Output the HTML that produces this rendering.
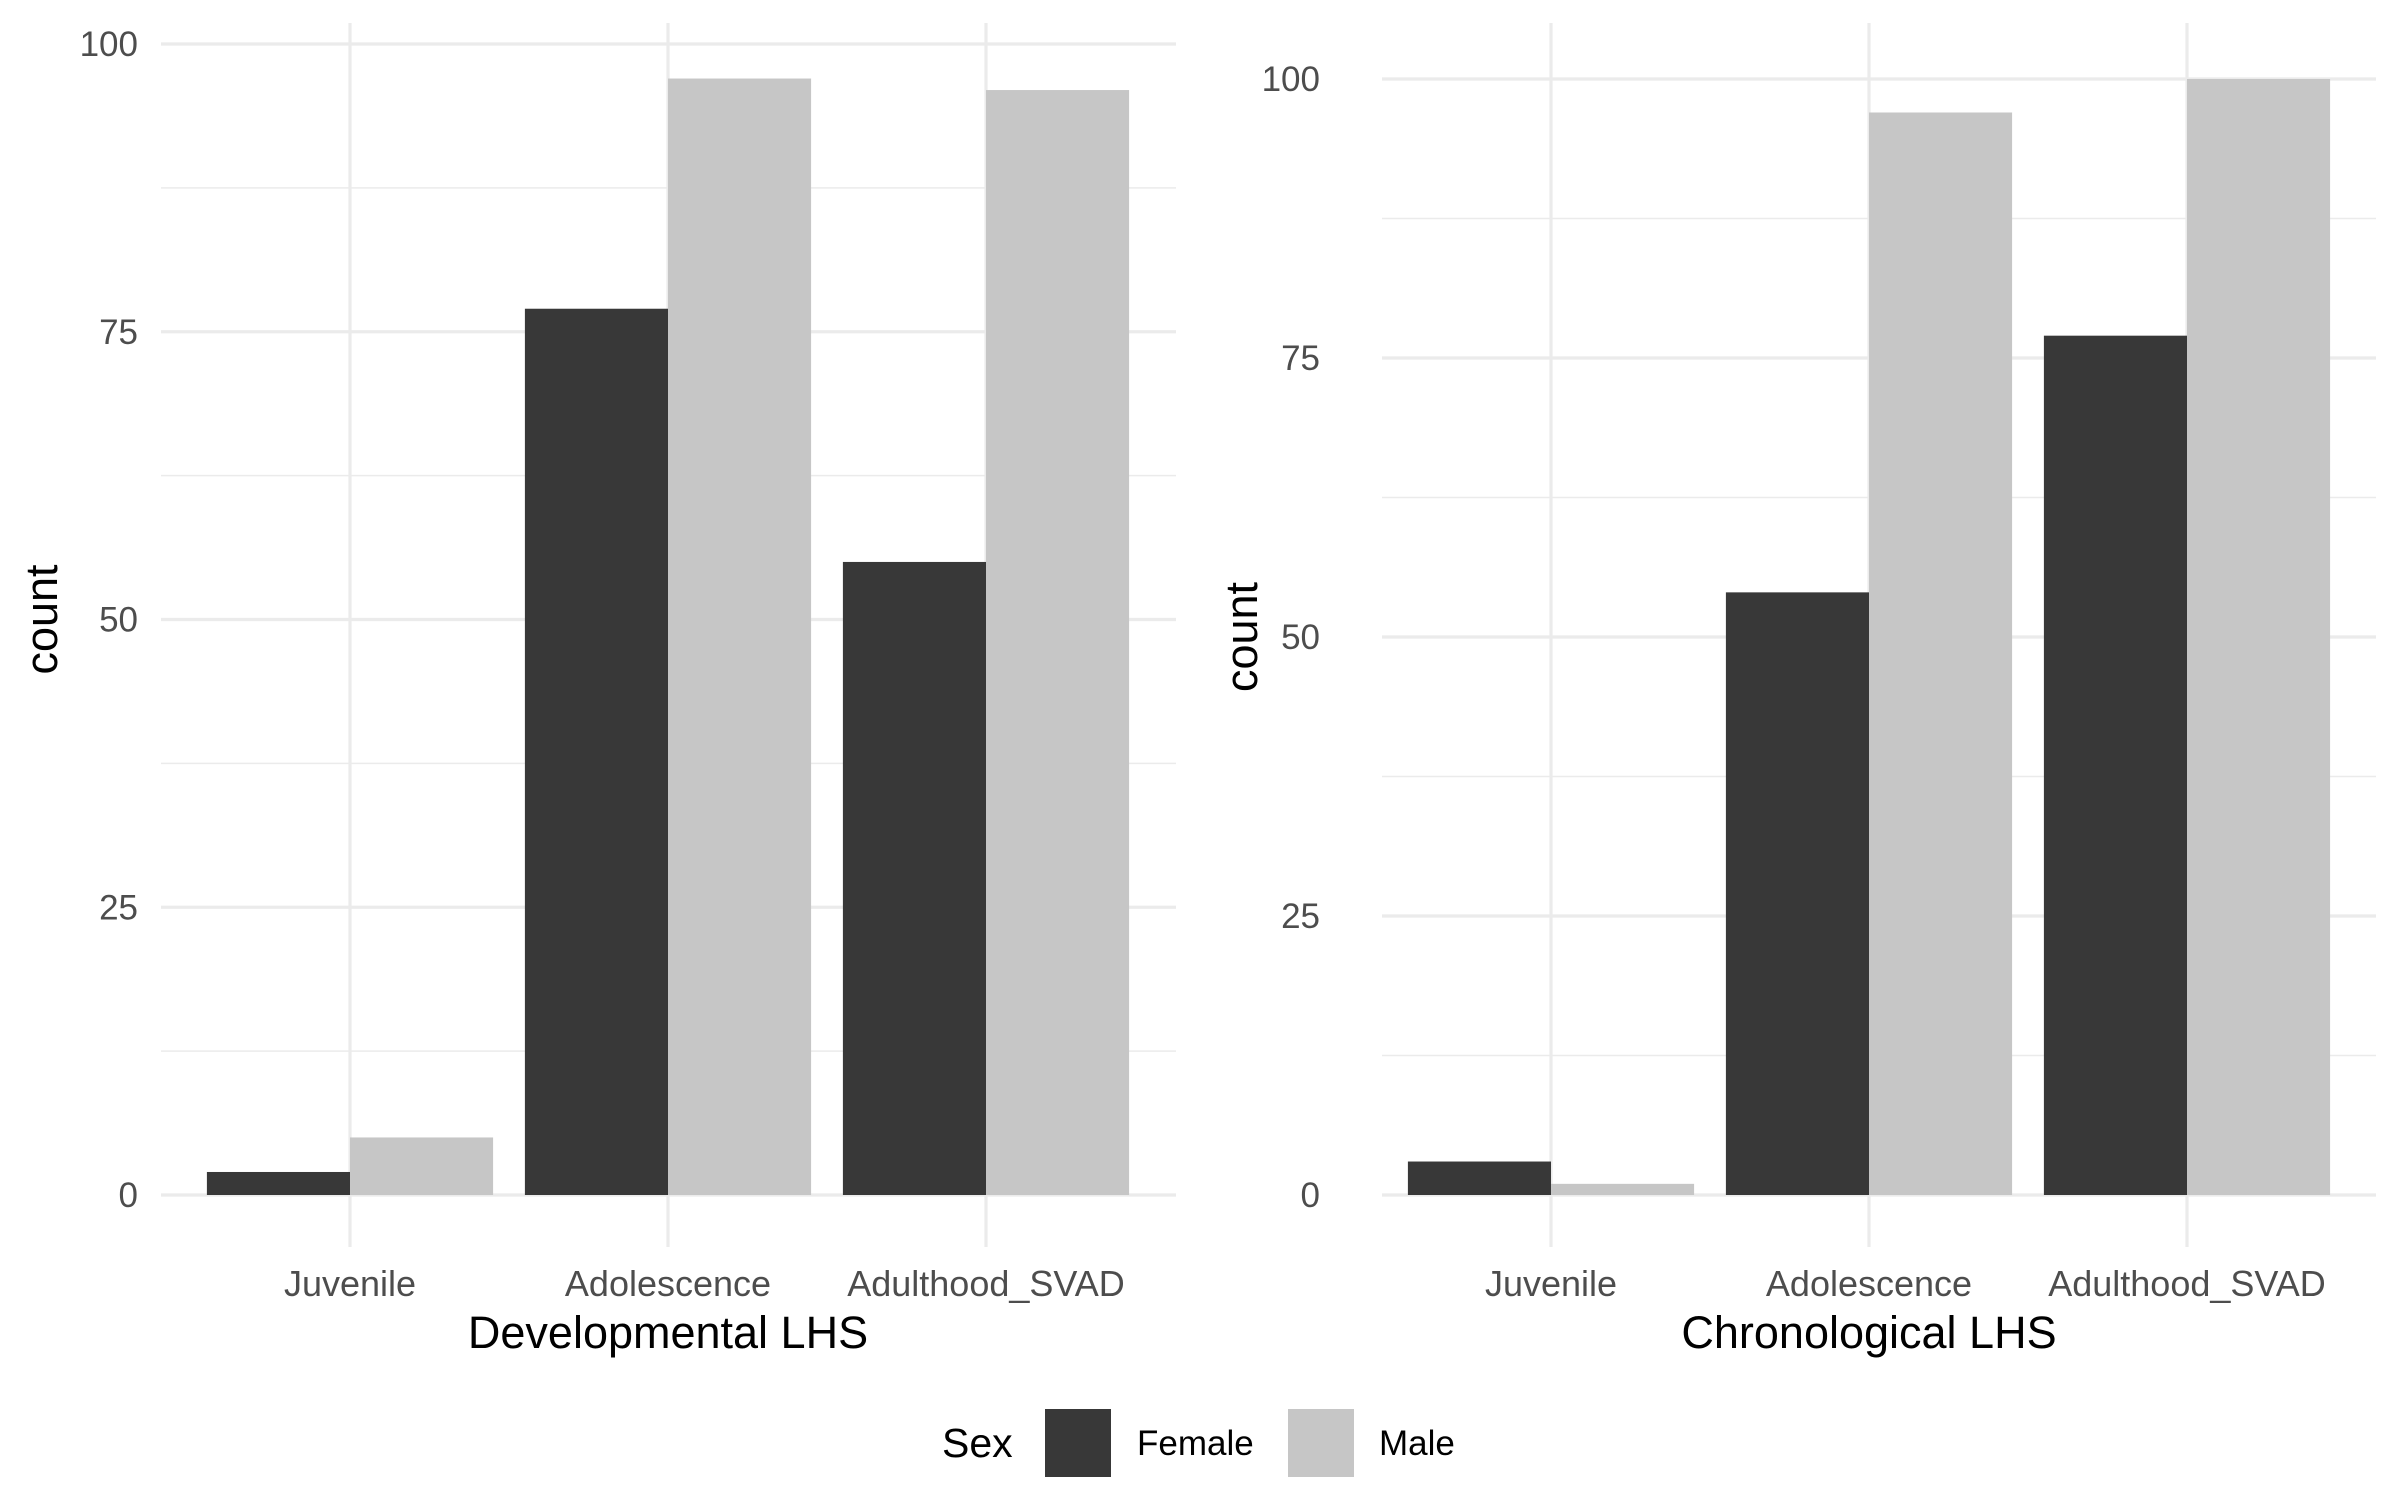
<!DOCTYPE html>
<html><head><meta charset="utf-8">
<style>
html,body{margin:0;padding:0;background:#fff;}
svg{display:block;font-family:"Liberation Sans",Arial,sans-serif;}
</style></head>
<body>
<svg id="chart" width="2400" height="1500" viewBox="0 0 2400 1500" xmlns="http://www.w3.org/2000/svg">
<rect width="2400" height="1500" fill="#fff"/>
<g id="panels"></g>
<g>
  <text x="942" y="1457" font-size="41" fill="#000">Sex</text>
  <rect x="1045" y="1409" width="66" height="68" fill="#383838"/>
  <text x="1137" y="1455" font-size="35" fill="#000">Female</text>
  <rect x="1288" y="1409" width="66" height="68" fill="#c6c6c6"/>
  <text x="1379" y="1455" font-size="35" fill="#000">Male</text>
</g>
</svg>
<script>
const categories = ["Juvenile", "Adolescence", "Adulthood_SVAD"];
const devFemale = [2, 77, 55];
const devMale = [5, 97, 96];
const chronFemale = [3, 54, 77];
const chronMale = [1, 97, 100];
const yTicks = [0, 25, 50, 75, 100];
const yMinor = [12.5, 37.5, 62.5, 87.5];
const panelTitles = ["Developmental LHS", "Chronological LHS"];

const NS = "http://www.w3.org/2000/svg";
const root = document.getElementById("panels");
function mk(tag, attrs, parent){
  const e = document.createElementNS(NS, tag);
  for (const k in attrs) e.setAttribute(k, attrs[k]);
  parent.appendChild(e);
  return e;
}
const panels = [
  {x0:161, x1:1176, y0:1195, y100:44, gx:350, step:318, lblX:138, titleX:43, female:devFemale, male:devMale, title:panelTitles[0], key:"developmental"},
  {x0:1382, x1:2376, y0:1195, y100:79, gx:1551, step:318, lblX:1320, titleX:1243, female:chronFemale, male:chronMale, title:panelTitles[1], key:"chronological"}
];
panels.forEach(p => {
  const g = mk("g", {}, root);
  
  
  const yScale = v => p.y0 + (p.y100 - p.y0) * v / 100;
  const xScale = i => p.gx + i * p.step;
  const top = 23, bot = 1247;
  yMinor.forEach(v => {
    const l = mk("line", {x1:p.x0, x2:p.x1, y1:yScale(v), y2:yScale(v), stroke:"#ebebeb", "stroke-width":1.6}, g);
    
    
  });
  yTicks.forEach(v => {
    const l = mk("line", {x1:p.x0, x2:p.x1, y1:yScale(v), y2:yScale(v), stroke:"#ebebeb", "stroke-width":3.2}, g);
    
    
    const t = mk("text", {x:p.lblX, y:yScale(v) + 12, "font-size":35, fill:"#4d4d4d", "text-anchor":"end"}, g);
    t.textContent = v;
    
    
  });
  categories.forEach((c, i) => {
    const l = mk("line", {x1:xScale(i), x2:xScale(i), y1:top, y2:bot, stroke:"#ebebeb", "stroke-width":3.2}, g);
    
    
  });
  const bw = p.step * 0.45;
  categories.forEach((c, i) => {
    const cx = xScale(i);
    const f = mk("rect", {x:cx - bw, y:yScale(p.female[i]), width:bw, height:p.y0 - yScale(p.female[i]), fill:"#383838"}, g);
    
    
    const m = mk("rect", {x:cx, y:yScale(p.male[i]), width:bw, height:p.y0 - yScale(p.male[i]), fill:"#c6c6c6"}, g);
    
    
    const t = mk("text", {x:cx, y:1296, "font-size":36, fill:"#4d4d4d", "text-anchor":"middle"}, g);
    t.textContent = c;
    
    
  });
  const xt = mk("text", {x:xScale(1), y:1348, "font-size":45, fill:"#000", "text-anchor":"middle"}, g);
  xt.textContent = p.title;
  
  
  const yx = p.titleX + 14, yy = (p.y0 + p.y100) / 2;
  const yt = mk("text", {x:yx, y:yy, "font-size":45, fill:"#000", "text-anchor":"middle", transform:"rotate(-90 " + yx + " " + yy + ")"}, g);
  yt.textContent = "count";
  
  
});
</script>
</body></html>
